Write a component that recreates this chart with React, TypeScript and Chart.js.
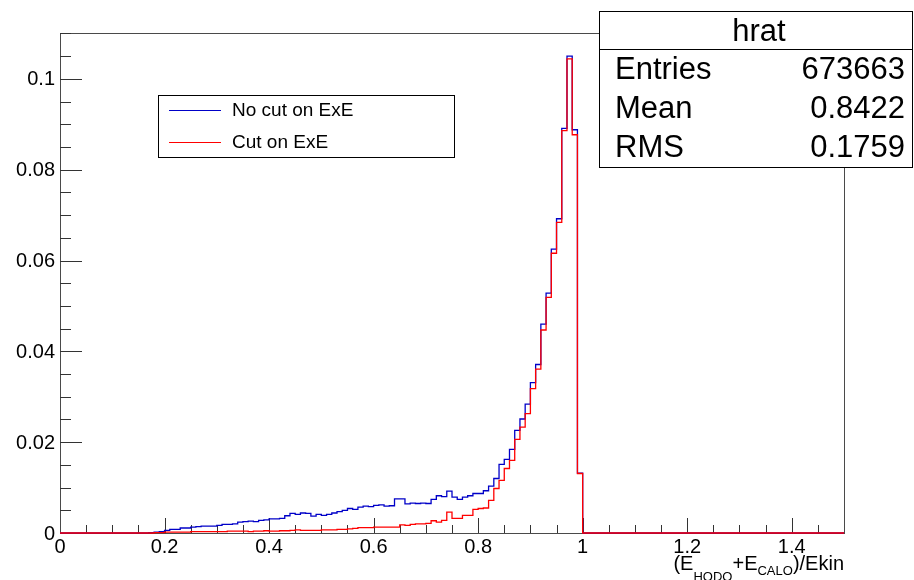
import React, { useEffect, useRef } from "react";
import { Chart, registerables } from "chart.js";

Chart.register(...registerables);

// ---- data ----
const BIN_WIDTH = 0.01;
const N_BINS = 150;
const X_MIN = 0;
const X_MAX = 1.5;
const Y_MAX = 0.1101;
const FIRST_BIN = 17; // first listed bin starts at 0.17

// "No cut on ExE" (bins 0.17 .. 0.99)
const noCut = [
  0.0001, 0.0002, 0.0003, 0.0006, 0.0008, 0.0008, 0.0011, 0.0011, 0.0013, 0.0014,
  0.0015, 0.0015, 0.0015, 0.0017, 0.0019, 0.0019, 0.0020, 0.0024, 0.0025, 0.0026,
  0.0025, 0.0028, 0.0029, 0.0031, 0.0031, 0.0032, 0.0038, 0.0043, 0.0041, 0.0044,
  0.0043, 0.0037, 0.0041, 0.0039, 0.0041, 0.0044, 0.0047, 0.0050, 0.0054, 0.0052,
  0.0057, 0.0059, 0.0058, 0.0061, 0.0062, 0.0059, 0.0060, 0.0075, 0.0075, 0.0064,
  0.0066, 0.0065, 0.0066, 0.0065, 0.0074, 0.0082, 0.0080, 0.0092, 0.0079, 0.0074,
  0.0079, 0.0082, 0.0087, 0.0087, 0.0093, 0.0103, 0.0120, 0.0151, 0.0162, 0.0184,
  0.0226, 0.0251, 0.0284, 0.0331, 0.0371, 0.0460, 0.0528, 0.0625, 0.0692, 0.0891,
  0.1050, 0.0888, 0.0132,
];

// "Cut on ExE" (bins 0.17 .. 0.99)
const cutExE = [
  0.0000, 0.0001, 0.0001, 0.0002, 0.0002, 0.0002, 0.0002, 0.0002, 0.0003, 0.0003,
  0.0003, 0.0003, 0.0003, 0.0003, 0.0003, 0.0004, 0.0004, 0.0004, 0.0004, 0.0003,
  0.0004, 0.0004, 0.0005, 0.0004, 0.0004, 0.0005, 0.0005, 0.0006, 0.0007, 0.0006,
  0.0006, 0.0006, 0.0006, 0.0007, 0.0007, 0.0007, 0.0008, 0.0008, 0.0009, 0.0010,
  0.0012, 0.0012, 0.0012, 0.0013, 0.0013, 0.0013, 0.0013, 0.0013, 0.0018, 0.0017,
  0.0019, 0.0020, 0.0020, 0.0021, 0.0027, 0.0024, 0.0028, 0.0046, 0.0032, 0.0032,
  0.0039, 0.0039, 0.0052, 0.0054, 0.0055, 0.0072, 0.0098, 0.0116, 0.0142, 0.0160,
  0.0206, 0.0233, 0.0263, 0.0318, 0.0361, 0.0447, 0.0519, 0.0616, 0.0684, 0.0886,
  0.1044, 0.0877, 0.0131,
];

const xTickValues = [0, 0.2, 0.4, 0.6, 0.8, 1.0, 1.2, 1.4];
const xTickLabels = ["0", "0.2", "0.4", "0.6", "0.8", "1", "1.2", "1.4"];
const yTickValues = [0, 0.02, 0.04, 0.06, 0.08, 0.1];
const yTickLabels = ["0", "0.02", "0.04", "0.06", "0.08", "0.1"];
const X_MINOR_STEP = 0.05;
const Y_MINOR_STEP = 0.005;

const legendLabels = ["No cut on ExE", "Cut on ExE"];
const seriesColors = ["#0000c8", "#ff0000"];

const statsTitle = "hrat";
const statsNames = ["Entries", "Mean", "RMS"];
const statsValues = ["673663", "0.8422", "0.1759"];

const FONT = '"Liberation Sans", Arial, Helvetica, sans-serif';

function buildPoints(values: number[]) {
  const pts: { x: number; y: number }[] = [];
  for (let i = 0; i <= N_BINS; i++) {
    const k = i - FIRST_BIN;
    const v = i < N_BINS && k >= 0 && k < values.length ? values[k] : 0;
    pts.push({ x: Number((i * BIN_WIDTH).toFixed(2)), y: v });
  }
  return pts;
}

const rootStyle = {
  id: "rootStyle",
  beforeDatasetsDraw(chart: any) {
    const { ctx, chartArea } = chart;
    const xs = chart.scales.x;
    const ys = chart.scales.y;
    const { left, right, top, bottom } = chartArea;
    ctx.save();
    ctx.strokeStyle = "#4a4a4a";
    ctx.lineWidth = 1;
    // frame
    ctx.strokeRect(Math.round(left) + 0.5, Math.round(top) + 0.5, Math.round(right - left), Math.round(bottom - top));
    // x ticks
    ctx.strokeStyle = "#333";
    const nX = Math.round((X_MAX - X_MIN) / X_MINOR_STEP);
    for (let i = 1; i < nX; i++) {
      const v = X_MIN + i * X_MINOR_STEP;
      const major = i % 4 === 0;
      const px = Math.round(xs.getPixelForValue(v)) + 0.5;
      ctx.beginPath();
      ctx.moveTo(px, bottom);
      ctx.lineTo(px, bottom - (major ? 15 : 8));
      ctx.stroke();
    }
    // y ticks
    const nY = Math.round(0.11 / Y_MINOR_STEP);
    for (let i = 1; i <= nY; i++) {
      const v = i * Y_MINOR_STEP;
      const major = i % 4 === 0;
      const py = Math.round(ys.getPixelForValue(v)) + 0.5;
      ctx.beginPath();
      ctx.moveTo(left, py);
      ctx.lineTo(left + (major ? 22 : 11), py);
      ctx.stroke();
    }
    ctx.restore();
  },
  afterDatasetsDraw(chart: any) {
    const { ctx, chartArea } = chart;
    const xs = chart.scales.x;
    const ys = chart.scales.y;
    const { left, right, bottom } = chartArea;
    ctx.save();
    ctx.fillStyle = "#000";
    // y tick labels
    ctx.font = `20px ${FONT}`;
    ctx.textAlign = "right";
    ctx.textBaseline = "middle";
    yTickValues.forEach((v, i) => {
      ctx.fillText(yTickLabels[i], left - 5, ys.getPixelForValue(v) + 1);
    });
    // x tick labels
    ctx.textAlign = "center";
    xTickValues.forEach((v, i) => {
      ctx.fillText(xTickLabels[i], xs.getPixelForValue(v), bottom + 14);
    });

    // x axis title: (E_HODO + E_CALO)/Ekin, right aligned
    const parts = [
      { t: "(E", s: 20, dy: 0 },
      { t: "HODO", s: 13, dy: 11 },
      { t: "+E", s: 20, dy: 0 },
      { t: "CALO", s: 13, dy: 5 },
      { t: ")/Ekin", s: 20, dy: 0 },
    ];
    let total = 0;
    const widths = parts.map((p) => {
      ctx.font = `${p.s}px ${FONT}`;
      const w = ctx.measureText(p.t).width;
      total += w;
      return w;
    });
    let x = right - total;
    ctx.textAlign = "left";
    ctx.textBaseline = "alphabetic";
    const base = 570;
    parts.forEach((p, i) => {
      ctx.font = `${p.s}px ${FONT}`;
      ctx.fillText(p.t, x, base + p.dy);
      x += widths[i];
    });

    // legend box
    const lx = 158, ly = 95, lw = 296, lh = 62;
    ctx.fillStyle = "#fff";
    ctx.fillRect(lx, ly, lw, lh);
    ctx.strokeStyle = "#000";
    ctx.lineWidth = 1;
    ctx.strokeRect(lx + 0.5, ly + 0.5, lw, lh);
    const rows = [110, 142];
    ctx.font = `19px ${FONT}`;
    ctx.textBaseline = "middle";
    ctx.textAlign = "left";
    rows.forEach((ry, i) => {
      ctx.strokeStyle = seriesColors[i];
      ctx.lineWidth = 1.2;
      ctx.beginPath();
      ctx.moveTo(169, ry + 0.5);
      ctx.lineTo(221, ry + 0.5);
      ctx.stroke();
      ctx.fillStyle = "#000";
      ctx.fillText(legendLabels[i], 232, ry + 1);
    });

    // stats box
    const sx = 599, sy = 11, sw = 313, sh = 156;
    ctx.fillStyle = "#fff";
    ctx.fillRect(sx, sy, sw, sh);
    ctx.strokeStyle = "#000";
    ctx.lineWidth = 1;
    ctx.strokeRect(sx + 0.5, sy + 0.5, sw, sh);
    ctx.beginPath();
    ctx.moveTo(sx, 49.5);
    ctx.lineTo(sx + sw, 49.5);
    ctx.stroke();
    ctx.fillStyle = "#000";
    ctx.font = `31px ${FONT}`;
    ctx.textAlign = "center";
    ctx.textBaseline = "middle";
    ctx.fillText(statsTitle, 759, 32);
    const rowY = [70, 109, 148];
    statsNames.forEach((n, i) => {
      ctx.textAlign = "left";
      ctx.fillText(n, 615, rowY[i]);
      ctx.textAlign = "right";
      ctx.fillText(statsValues[i], 905, rowY[i]);
    });
    ctx.restore();
  },
};

export default function App() {
  const ref = useRef<HTMLCanvasElement>(null);
  useEffect(() => {
    const canvas = ref.current;
    if (!canvas) return;
    const chart = new Chart(canvas, {
      type: "line",
      data: {
        datasets: [
          {
            label: legendLabels[1],
            data: buildPoints(cutExE),
            borderColor: seriesColors[1],
            borderWidth: 1.3,
            stepped: "before",
            pointRadius: 0,
            fill: false,
            order: 1,
            clip: 4,
          },
          {
            label: legendLabels[0],
            data: buildPoints(noCut),
            borderColor: seriesColors[0],
            borderWidth: 1.3,
            stepped: "before",
            pointRadius: 0,
            fill: false,
            order: 2,
            clip: 4,
          },
        ],
      },
      options: {
        responsive: false,
        animation: false,
        devicePixelRatio: 1,
        events: [],
        layout: { padding: { left: 60, top: 33, right: 70, bottom: 47 } },
        scales: {
          x: { type: "linear", min: X_MIN, max: X_MAX, display: false },
          y: { type: "linear", min: 0, max: Y_MAX, display: false },
        },
        plugins: { legend: { display: false }, tooltip: { enabled: false } },
      },
      plugins: [rootStyle],
    } as any);
    return () => chart.destroy();
  }, []);
  return (
    <div style={{ position: "absolute", left: 0, top: 0, width: 914, height: 580, background: "#fff" }}>
      <canvas ref={ref} width={914} height={580} style={{ width: 914, height: 580, display: "block" }} />
    </div>
  );
}
